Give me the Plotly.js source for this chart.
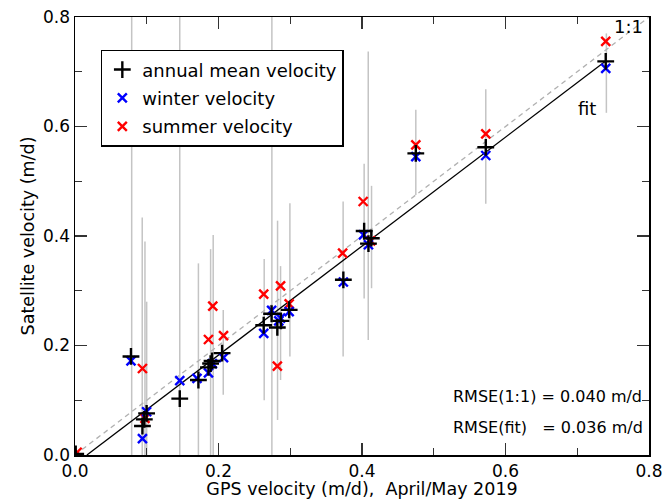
<!DOCTYPE html>
<html><head><meta charset="utf-8">
<script src="https://cdn.plot.ly/plotly-3.0.1.min.js"></script>
<style>html,body{margin:0;padding:0;background:#fff}#chart{width:665px;height:499px}</style>
</head><body><div id="chart"></div>
<script>
// ---- data ----
const annualX = [0.001, 0.078, 0.094, 0.0966, 0.0998, 0.146, 0.172, 0.186, 0.189, 0.191, 0.205, 0.263, 0.274, 0.282, 0.287, 0.2985, 0.374, 0.403, 0.409, 0.413, 0.475, 0.5725, 0.7397];
const annualY = [0.002, 0.180, 0.053, 0.065, 0.076, 0.103, 0.137, 0.160, 0.167, 0.172, 0.186, 0.237, 0.258, 0.233, 0.245, 0.265, 0.320, 0.409, 0.386, 0.396, 0.551, 0.562, 0.719];

const winterX = [0.078, 0.094, 0.0998, 0.146, 0.170, 0.186, 0.1915, 0.207, 0.263, 0.274, 0.284, 0.2865, 0.2985, 0.374, 0.402, 0.409, 0.475, 0.5725, 0.7397];
const winterY = [0.172, 0.030, 0.079, 0.136, 0.140, 0.150, 0.167, 0.178, 0.222, 0.264, 0.245, 0.250, 0.262, 0.316, 0.402, 0.384, 0.545, 0.547, 0.706];

const summerX = [0.003, 0.094, 0.0975, 0.186, 0.192, 0.207, 0.263, 0.282, 0.2865, 0.2985, 0.373, 0.4016, 0.412, 0.475, 0.5725, 0.7397];
const summerY = [0.005, 0.158, 0.067, 0.211, 0.272, 0.218, 0.294, 0.1625, 0.309, 0.276, 0.3686, 0.463, 0.391, 0.5666, 0.5867, 0.7555];

// vertical ranges (grey bars)
const rangeX    = [0.079, 0.0937, 0.0975, 0.0999, 0.146, 0.172, 0.189, 0.1926, 0.2066, 0.2637, 0.2744, 0.2823, 0.2865, 0.2995, 0.3737, 0.403, 0.4087, 0.4133, 0.475, 0.5725, 0.7406];
const rangeLow  = [-0.05, -0.05, -0.05, -0.05, -0.05, -0.05, -0.05, -0.05, 0.110, 0.100, -0.05, 0.064, 0.137, 0.180, 0.180, 0.286, 0.210, 0.3046, 0.475, 0.459, 0.625];
const rangeHigh = [0.95, 0.434, 0.390, 0.280, 0.95, 0.350, 0.376, 0.402, 0.265, 0.358, 0.95, 0.428, 0.345, 0.460, 0.463, 0.532, 0.737, 0.4916, 0.6305, 0.668, 0.770];

const fitSlope = 0.995, fitIntercept = -0.0165;
const fitXStart = 0.0166, fitXEnd = 0.7397;
const oneToOne = [0, 0.8];

const xTicks = [0.0, 0.2, 0.4, 0.6, 0.8];
const yTicks = [0.0, 0.2, 0.4, 0.6, 0.8];

// ---- build traces ----
const rx = [], ry = [];
for (let i = 0; i < rangeX.length; i++) {
  rx.push(rangeX[i], rangeX[i], null);
  ry.push(rangeLow[i], rangeHigh[i], null);
}
const FONT = 'DejaVu Sans, Verdana, sans-serif';

const traces = [
  {x: rx, y: ry, mode: 'lines', line: {color: '#c4c4c4', width: 1.5}, showlegend: false, hoverinfo: 'skip'},
  {x: oneToOne, y: oneToOne, mode: 'lines', line: {color: '#b0b0b0', width: 1.3, dash: '5px,4px'}, showlegend: false},
  {x: [fitXStart, fitXEnd], y: [fitXStart, fitXEnd].map(v => fitSlope * v + fitIntercept), mode: 'lines', line: {color: '#000', width: 1.3}, showlegend: false},
  {x: summerX, y: summerY, mode: 'markers', name: 'summer velocity', legendrank: 3, legendgroup: 's',
   marker: {symbol: 'x-thin', size: 9, color: '#ff0000', line: {color: '#ff0000', width: 2.4}}},
  {x: winterX, y: winterY, mode: 'markers', name: 'winter velocity', legendrank: 2, legendgroup: 'w',
   marker: {symbol: 'x-thin', size: 9, color: '#0000ff', line: {color: '#0000ff', width: 2.4}}},
  {x: annualX, y: annualY, mode: 'markers', name: 'annual mean velocity', legendrank: 1, legendgroup: 'a',
   marker: {symbol: 'cross-thin', size: 12, color: '#000', line: {color: '#000', width: 2.4}}}
];

const axisCommon = {
  range: [0, 0.8], showgrid: false, zeroline: false,
  showline: true, linecolor: '#000', linewidth: 1.5, mirror: 'ticks',
  ticks: 'inside', ticklen: 12, tickwidth: 1.5, tickcolor: '#333',
  tickformat: '.1f', tickfont: {family: FONT, size: 17, color: '#000'},
  minor: {dtick: 0.1, ticks: 'inside', ticklen: 7, tickwidth: 1.2, tickcolor: '#333'},
  automargin: false
};

const layout = {
  width: 665, height: 499,
  margin: {l: 75, r: 16, t: 17, b: 44},
  paper_bgcolor: '#fff', plot_bgcolor: '#fff',
  font: {family: FONT, size: 18, color: '#000'},
  xaxis: Object.assign({}, axisCommon, {tickvals: xTicks,
    title: {text: 'GPS velocity (m/d),\u00a0\u00a0April/May 2019', font: {family: FONT, size: 17.5}, standoff: 0}}),
  yaxis: Object.assign({}, axisCommon, {tickvals: yTicks,
    title: {text: 'Satellite velocity (m/d)', font: {family: FONT, size: 17.5}, standoff: 4}}),
  legend: {x: 0.045, y: 0.925, xanchor: 'left', yanchor: 'top',
    bordercolor: '#000', borderwidth: 1.5, bgcolor: '#fff',
    font: {family: FONT, size: 18}, traceorder: 'grouped', tracegroupgap: 2},
  annotations: [
    {x: 0.772, y: 0.782, xref: 'x', yref: 'y', text: '1:1', showarrow: false, font: {family: FONT, size: 18}},
    {x: 0.713, y: 0.632, xref: 'x', yref: 'y', text: 'fit', showarrow: false, font: {family: FONT, size: 18}},
    {x: 0.5245, y: 0.106, xref: 'x', yref: 'y', xanchor: 'left', text: 'RMSE(1:1) = 0.040 m/d', showarrow: false, font: {family: FONT, size: 16}},
    {x: 0.5245, y: 0.051, xref: 'x', yref: 'y', xanchor: 'left', text: 'RMSE(fit)\u00a0\u00a0\u00a0= 0.036 m/d', showarrow: false, font: {family: FONT, size: 16}}
  ],
  showlegend: true
};

Plotly.newPlot('chart', traces, layout, {displayModeBar: false, staticPlot: true});
</script>
</body></html>
